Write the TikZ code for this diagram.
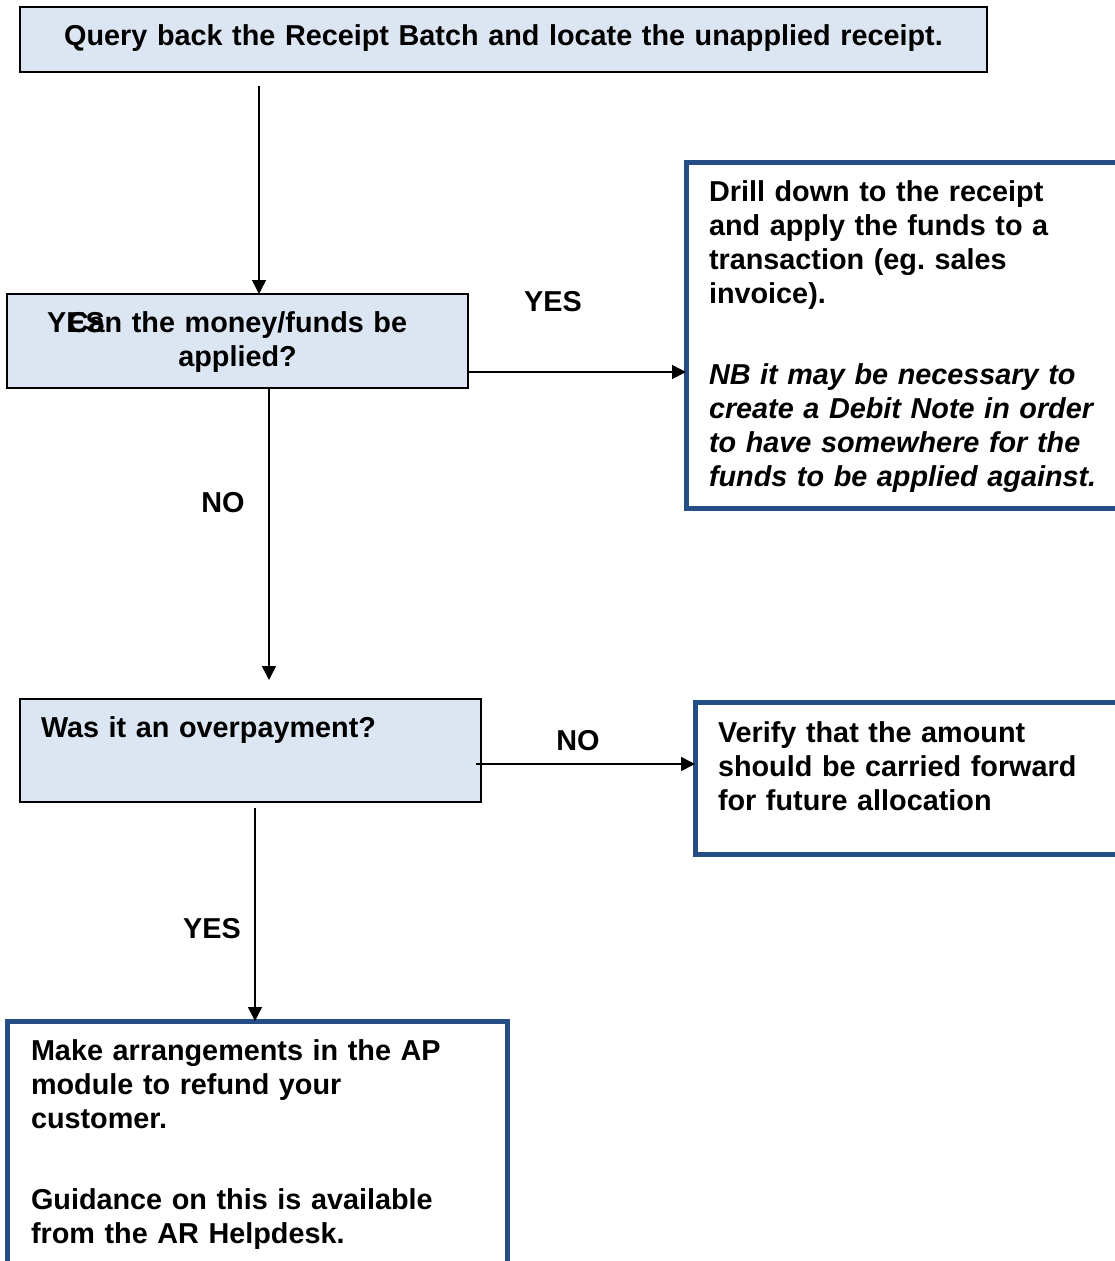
\documentclass[tikz,border=0pt]{standalone}
\usepackage{fontspec}
\setmainfont{Liberation Sans}
\usetikzlibrary{arrows.meta}
\definecolor{boxfill}{RGB}{220,230,242}
\definecolor{boxblue}{RGB}{37,78,134}
\tikzset{
  qbox/.style={draw=black, line width=1.5pt, fill=boxfill, inner sep=0pt,
    outer sep=0pt, anchor=north west},
  bbox/.style={draw=boxblue, line width=5pt, fill=white, inner ysep=0pt,
    outer sep=0pt, anchor=north west, align=left},
  flow/.style={-{Triangle[length=14pt,width=14pt]}, line width=1.5pt},
  lbl/.style={inner sep=0pt}
}
\frenchspacing
\begin{document}
\begin{tikzpicture}[x=1pt,y=-1pt,font=\fontsize{28.8}{34}\selectfont\bfseries]
  \useasboundingbox (0,0) rectangle (1115,1261);
  % question boxes
  \node[qbox, text width=967pt, align=center, text height=38pt, text depth=27pt]
    (query) at (20,7) {Query back the Receipt Batch and locate the unapplied receipt.};
  \node[qbox, text width=461pt, align=center, text height=38pt, text depth=56pt]
    (apply) at (7,294) {Can the money/funds be\\applied?};
  \node[qbox, inner xsep=21pt, text width=419pt, align=left, text height=38pt, text depth=65pt]
    (overpay) at (20,699) {Was it an overpayment?};
  % action boxes
  \node[bbox, inner xsep=23pt, text width=420pt, text height=39pt, text depth=307pt]
    (drill) at (686,162) {Drill down to the receipt\\and apply the funds to a\\transaction (eg. sales\\invoice).\\[47pt]%
      \textit{NB it may be necessary to}\\\textit{create a Debit Note in order}\\%
      \textit{to have somewhere for the}\\\textit{funds to be applied against.}};
  \node[bbox, inner xsep=23pt, text width=420pt, text height=39.5pt, text depth=112pt]
    (carry) at (695,702.5) {Verify that the amount\\should be carried forward\\for future allocation};
  \node[bbox, inner xsep=24pt, text width=452pt, text height=39pt, text depth=230pt]
    (refund) at (7,1021) {Make arrangements in the AP\\module to refund your\\customer.\\[47pt]%
      Guidance on this is available\\from the AR Helpdesk.};
  % connectors
  \coordinate (q1) at (259,86);
  \draw[flow] (q1) -- (q1 |- apply.north);
  \draw[flow] (apply.east |- 0,372) -- (drill.west |- 0,372);
  \coordinate (n1) at (269,680);
  \draw[flow] (apply.south -| n1) -- (n1);
  \draw[flow] ([xshift=-5pt]overpay.east |- 0,764) -- (carry.west |- 0,764);
  \coordinate (y1) at (255,808);
  \draw[flow] (y1) -- (y1 |- refund.north);
  % labels
  \node[lbl] (yes1) at (553,302) {YES};
  \node[lbl] (no1) at (223,503) {NO};
  \node[lbl] (no2) at (578,741) {NO};
  \node[lbl] (yes2) at (212,929) {YES};
  \node[lbl, anchor=base west] (yes0) at (47,332) {YES};
\end{tikzpicture}
\end{document}
